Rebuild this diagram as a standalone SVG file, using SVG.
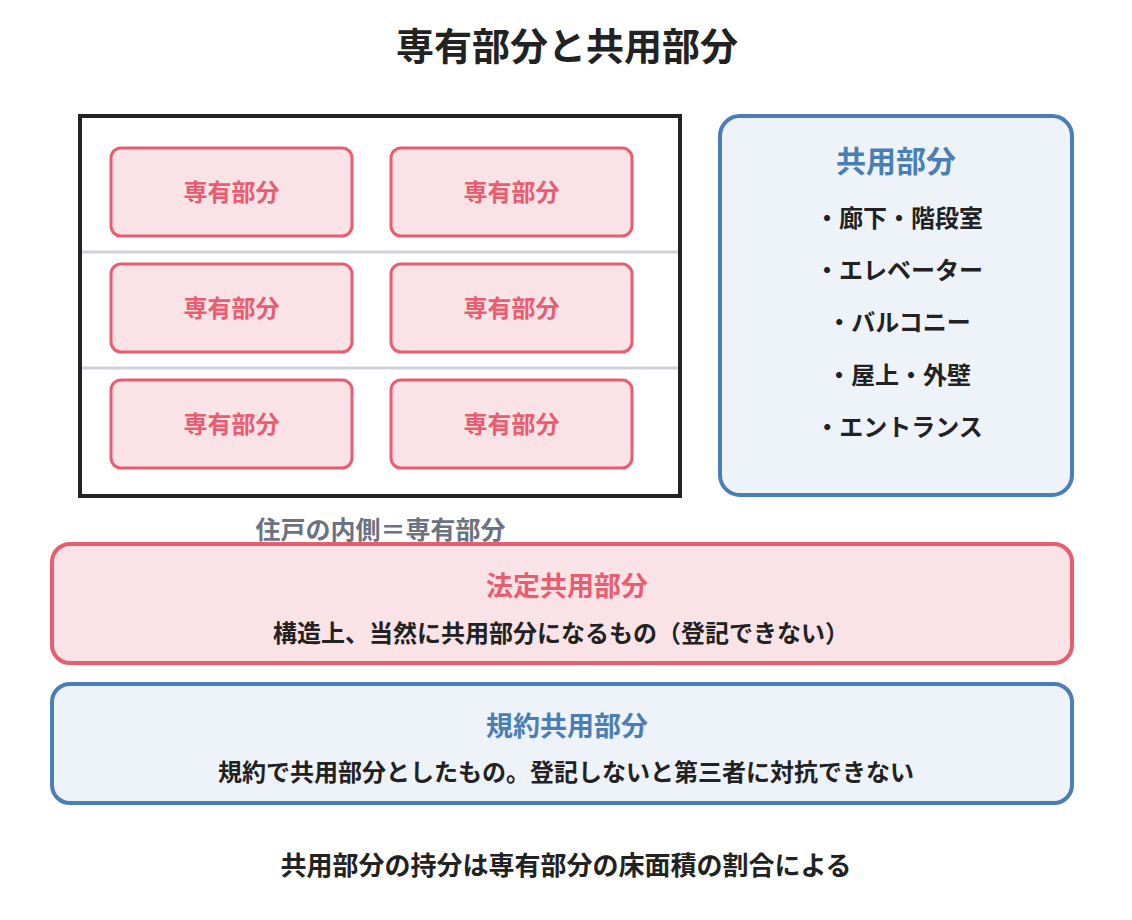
<svg xmlns="http://www.w3.org/2000/svg" width="1132" height="920" viewBox="0 0 1132 920">
<style>
text{font-family:"Noto Sans CJK JP","Noto Sans",sans-serif;text-anchor:middle;dominant-baseline:central}
.unit rect{fill:#fae3e7;stroke:#e85d70;stroke-width:3}
.unit text{fill:#e85d70;font-size:24px;font-weight:700}
.item{fill:#222;font-size:24px;font-weight:600}
.dark{fill:#222}
</style>
<rect width="1132" height="920" fill="#fff"/>
<text x="567" y="43" font-size="38" font-weight="700" class="dark">専有部分と共用部分</text>
<g id="building">
<rect x="80" y="116" width="600" height="380" fill="#fff" stroke="#222" stroke-width="4"/>
<line x1="82" y1="252" x2="678" y2="252" stroke="#d1d1d9" stroke-width="3"/>
<line x1="82" y1="368" x2="678" y2="368" stroke="#d1d1d9" stroke-width="3"/>
</g>
<g id="unit1" class="unit"><rect x="111" y="148" width="241" height="88" rx="10"/><text x="231.5" y="190">専有部分</text></g>
<g id="unit2" class="unit"><rect x="391" y="148" width="241" height="88" rx="10"/><text x="511.5" y="190">専有部分</text></g>
<g id="unit3" class="unit"><rect x="111" y="264" width="241" height="88" rx="10"/><text x="231.5" y="306">専有部分</text></g>
<g id="unit4" class="unit"><rect x="391" y="264" width="241" height="88" rx="10"/><text x="511.5" y="306">専有部分</text></g>
<g id="unit5" class="unit"><rect x="111" y="380" width="241" height="88" rx="10"/><text x="231.5" y="422">専有部分</text></g>
<g id="unit6" class="unit"><rect x="391" y="380" width="241" height="88" rx="10"/><text x="511.5" y="422">専有部分</text></g>
<text id="unit-label" x="380.5" y="528" font-size="25" font-weight="600" fill="#6b7280">住戸の内側＝専有部分</text>
<g id="common">
<rect x="720" y="116" width="352" height="379" rx="20" fill="#eef3fa" stroke="#4a7fb5" stroke-width="4"/>
<text x="896" y="159" font-size="30" font-weight="700" fill="#4a7fb5">共用部分</text>
<text x="899" y="216" class="item">・廊下・階段室</text>
<text x="899" y="268" class="item">・エレベーター</text>
<text x="899" y="320" class="item">・バルコニー</text>
<text x="899" y="373" class="item">・屋上・外壁</text>
<text x="899" y="425" class="item">・エントランス</text>
</g>
<g id="statutory">
<rect x="52" y="544" width="1020" height="119" rx="18" fill="#fae3e7" stroke="#e85d70" stroke-width="4"/>
<text x="567" y="584" font-size="27" font-weight="700" fill="#e85d70">法定共用部分</text>
<text x="561" y="631" font-size="24" font-weight="600" class="dark">構造上、当然に共用部分になるもの（登記できない）</text>
</g>
<g id="bylaw">
<rect x="52" y="684" width="1020" height="119" rx="18" fill="#eef3fa" stroke="#4a7fb5" stroke-width="4"/>
<text x="567" y="724" font-size="27" font-weight="700" fill="#4a7fb5">規約共用部分</text>
<text x="566" y="770" font-size="24" font-weight="600" class="dark">規約で共用部分としたもの。登記しないと第三者に対抗できない</text>
</g>
<g id="connectors"></g>
<text id="note" x="566" y="863" font-size="26" font-weight="600" class="dark">共用部分の持分は専有部分の床面積の割合による</text>
</svg>
